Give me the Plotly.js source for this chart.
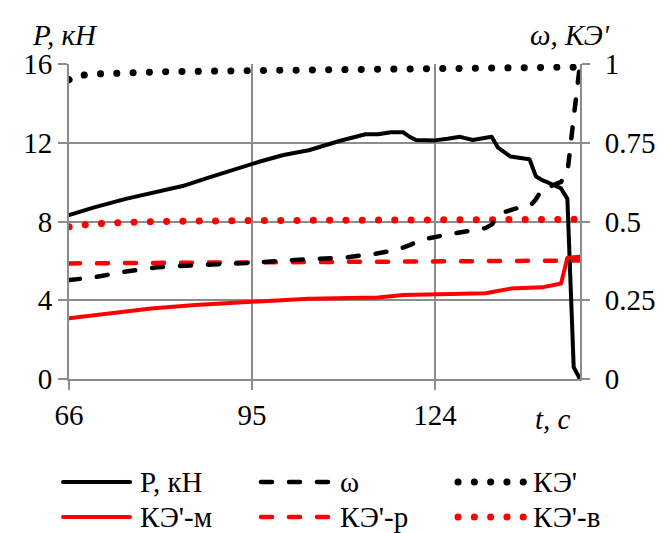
<!DOCTYPE html>
<html>
<head>
<meta charset="utf-8">
<script src="https://cdn.plot.ly/plotly-3.0.1.min.js"></script>
</head>
<body style="margin:0">
<div id="chart" style="width:665px;height:533px;"></div>
<script>
// ---- Data ----
// P, кН (left axis)
const tP = [66, 70, 75, 80, 84, 88, 92, 96, 100, 104, 109, 113, 115, 117, 119, 120, 121, 122, 124, 126, 128, 130, 133, 134, 135, 136, 137, 139, 140, 141, 142, 143, 144, 145, 146, 147];
const P  = [8.33, 8.72, 9.15, 9.5, 9.8, 10.22, 10.63, 11.02, 11.38, 11.62, 12.1, 12.43, 12.43, 12.53, 12.53, 12.3, 12.14, 12.12, 12.12, 12.2, 12.3, 12.14, 12.3, 11.75, 11.5, 11.3, 11.25, 11.16, 10.3, 10.1, 9.97, 9.85, 9.68, 9.15, 0.6, 0];

// ω (right axis)
const tW = [66, 70, 75, 80, 87, 92, 96, 100, 105, 110, 115, 118, 120, 122, 127, 132, 133, 134, 135, 137, 139, 140, 141, 142, 144, 145, 146, 147];
const W  = [0.314, 0.323, 0.341, 0.355, 0.362, 0.365, 0.37, 0.376, 0.382, 0.386, 0.399, 0.41, 0.425, 0.443, 0.462, 0.479, 0.49, 0.515, 0.53, 0.542, 0.548, 0.57, 0.603, 0.609, 0.626, 0.653, 0.83, 1.0];

// КЭ' (right axis)
const tK = [66, 67, 70, 75, 80, 95, 110, 124, 135, 145, 146, 147];
const K  = [0.95, 0.962, 0.968, 0.972, 0.975, 0.979, 0.981, 0.983, 0.985, 0.988, 0.99, 1.0];

// КЭ'-м (right axis)
const tM = [66, 75, 79, 86, 95, 101, 104, 115, 119, 132, 134, 136, 141, 143, 144, 145, 146, 147];
const M  = [0.193, 0.214, 0.224, 0.235, 0.244, 0.249, 0.255, 0.259, 0.267, 0.272, 0.28, 0.287, 0.291, 0.298, 0.303, 0.385, 0.388, 0.388];

// КЭ'-р (right axis)
const tR = [66, 80, 95, 110, 124, 147];
const R  = [0.367, 0.369, 0.372, 0.374, 0.375, 0.376];

// КЭ'-в (right axis)
const tV = [66, 68, 72, 80, 95, 124, 147];
const V  = [0.483, 0.489, 0.495, 0.5, 0.503, 0.505, 0.507];

const xTicks = [66, 95, 124];
const yTicksL = [0, 4, 8, 12, 16];
const yTicksR = [0, 0.25, 0.5, 0.75, 1];
const yTickTextR = ['0', '0.25', '0.5', '0.75', '1'];

const legendNames = ['P, кН', 'ω', "КЭ'", "КЭ'-м", "КЭ'-р", "КЭ'-в"];

// ---- Styles ----
const FONT = 'Liberation Serif';
const GRID = '#8c8c8c';
const RED = '#ff0000';
const BLK = '#000000';
const SOLID = 'solid', DASH = '11px,17px', DOT = '0.1px,16.2px';
const styles = [
  {color: BLK, width: 4, dash: SOLID},
  {color: BLK, width: 4.5, dash: DASH},
  {color: BLK, width: 7, dash: DOT},
  {color: RED, width: 4, dash: SOLID},
  {color: RED, width: 4.5, dash: DASH},
  {color: RED, width: 7, dash: DOT}
];

function tr(x, y, axis, st) {
  return {x: x, y: y, yaxis: axis, type: 'scatter', mode: 'lines',
          line: {color: st.color, width: st.width, dash: st.dash},
          showlegend: false, hoverinfo: 'skip'};
}

const data = [
  tr(tM, M, 'y2', styles[3]),
  tr(tR, R, 'y2', styles[4]),
  tr(tV, V, 'y2', styles[5]),
  tr(tW, W, 'y2', styles[1]),
  tr(tK, K, 'y2', styles[2]),
  tr(tP, P, 'y',  styles[0])
];

// ---- Layout geometry (pixels) ----
const L = 69, R_ = 580, T = 64, B = 379;
const px2x = px => (px - L) / (R_ - L);
const py2y = py => (B - py) / (B - T);

const annotations = [
  {text: 'P, кН', x: px2x(30), y: py2y(35), xanchor: 'left', yanchor: 'middle'},
  {text: "ω, КЭ'", x: px2x(612), y: py2y(35), xanchor: 'right', yanchor: 'middle'},
  {text: 't, с', x: px2x(553), y: py2y(419), xanchor: 'center', yanchor: 'middle'}
].map(a => Object.assign(a, {xref: 'paper', yref: 'paper', showarrow: false,
    font: {family: FONT, size: 29, style: 'italic'}}));

const shapes = [];
const legCols = [[63, 130, 138], [261, 330, 338], [458, 528, 531]];
const legRows = [482, 517];
legendNames.forEach((name, i) => {
  const c = legCols[i % 3], r = legRows[Math.floor(i / 3)];
  const st = styles[i];
  shapes.push({type: 'line', xref: 'paper', yref: 'paper',
    x0: px2x(c[0]), x1: px2x(c[1]), y0: py2y(r), y1: py2y(r),
    line: {color: st.color, width: st.width, dash: st.dash}});
  annotations.push({text: name, xref: 'paper', yref: 'paper', showarrow: false,
    x: px2x(c[2]), y: py2y(r), xanchor: 'left', yanchor: 'middle',
    font: {family: FONT, size: 29}});
});

const axisCommon = {
  showgrid: true, gridcolor: GRID, gridwidth: 2,
  ticks: 'outside', tickcolor: GRID, tickwidth: 2,
  showline: true, linecolor: GRID, linewidth: 2,
  zeroline: false, fixedrange: true,
  tickfont: {family: FONT, size: 29}
};

const layout = {
  width: 665, height: 533,
  margin: {l: L, r: 665 - R_, t: T, b: 533 - B, pad: 0},
  paper_bgcolor: '#fff', plot_bgcolor: '#fff',
  showlegend: false,
  font: {color: '#000'},
  xaxis: Object.assign({}, axisCommon, {
    range: [66, 147], tickmode: 'array', tickvals: xTicks,
    ticktext: xTicks.map(String), ticklen: 9
  }),
  yaxis: Object.assign({}, axisCommon, {
    range: [0, 16], tickmode: 'array', tickvals: yTicksL,
    ticktext: yTicksL.map(String), ticklen: 9
  }),
  yaxis2: Object.assign({}, axisCommon, {
    overlaying: 'y', side: 'right', range: [0, 1], showgrid: false,
    tickmode: 'array', tickvals: yTicksR, ticktext: yTickTextR, ticklen: 8,
    ticklabelstandoff: 9
  }),
  shapes: shapes,
  annotations: annotations
};

function roundCaps() {
  document.querySelectorAll('#chart .js-line, #chart .shapelayer path').forEach(p => {
    p.style.strokeLinecap = 'round';
    p.style.strokeLinejoin = 'round';
  });
}

const gd = document.getElementById('chart');
Plotly.newPlot(gd, data, layout, {displayModeBar: false});
roundCaps();
gd.on('plotly_afterplot', roundCaps);
</script>
</body>
</html>
